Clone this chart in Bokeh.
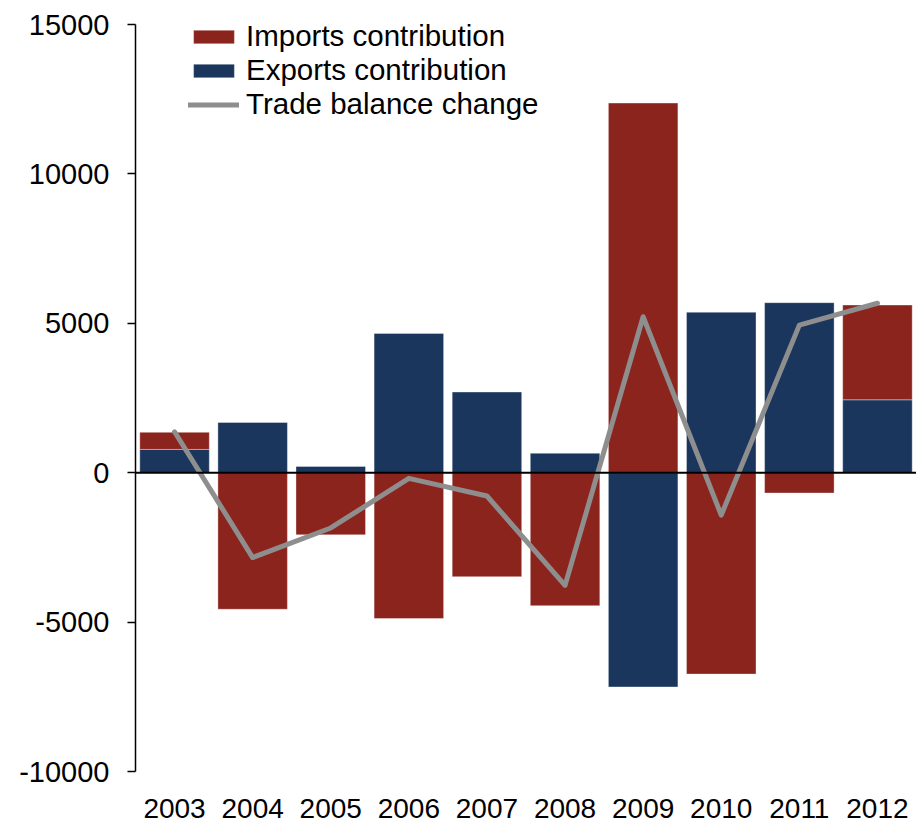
from bokeh.plotting import figure
from bokeh.models import (ColumnDataSource, Range1d, FactorRange, FixedTicker, Span,
                          Legend, LegendItem)
from bokeh.embed import file_html
from bokeh.resources import INLINE

# ---- data ----
years = ["2003", "2004", "2005", "2006", "2007", "2008", "2009", "2010", "2011", "2012"]
exports_contribution = [780, 1680, 210, 4660, 2700, 650, -7170, 5370, 5690, 2440]
imports_contribution = [570, -4570, -2080, -4880, -3480, -4450, 12370, -6740, -680, 3170]
trade_balance_change = [1370, -2840, -1850, -190, -780, -3770, 5220, -1420, 4940, 5670]
y_ticks = [-10000, -5000, 0, 5000, 10000, 15000]

RED = "#8B241D"
BLUE = "#1A365D"
GREY = "#8E8E8E"
FONT = "Liberation Sans"

# stacking: positive parts stack (exports first, then imports), negatives from zero
exp_bottom, exp_top, imp_bottom, imp_top = [], [], [], []
for e, i in zip(exports_contribution, imports_contribution):
    exp_bottom.append(0)
    exp_top.append(e)
    if (i > 0 and e > 0) or (i < 0 and e < 0):
        imp_bottom.append(e)
        imp_top.append(e + i)
    else:
        imp_bottom.append(0)
        imp_top.append(i)

exp_src = ColumnDataSource(dict(x=years, bottom=exp_bottom, top=exp_top))
imp_src = ColumnDataSource(dict(x=years, bottom=imp_bottom, top=imp_top))
line_src = ColumnDataSource(dict(x=years, y=trade_balance_change))

W, H = 916, 823
bottom_border = 52
top_gap = 24  # space above the 15000 tick inside the frame (room for legend)
frame_h = H - bottom_border
y_min, y_max = min(y_ticks), max(y_ticks)
units_per_px = (y_max - y_min) / (frame_h - top_gap)
y_end = y_max + top_gap * units_per_px

p = figure(width=W, height=H, output_backend="svg", toolbar_location=None,
           x_range=FactorRange(factors=years, range_padding=0),
           y_range=Range1d(y_min, y_end),
           min_border_left=135, min_border_right=0, min_border_top=0,
           min_border_bottom=bottom_border)
p.outline_line_color = None
p.grid.visible = False
p.background_fill_color = "white"
p.border_fill_color = "white"

bw = 0.89
r_exp = p.vbar(x="x", bottom="bottom", top="top", width=bw, source=exp_src,
               fill_color=BLUE, line_color="white", line_alpha=0.35, line_width=1)
r_imp = p.vbar(x="x", bottom="bottom", top="top", width=bw, source=imp_src,
               fill_color=RED, line_color="white", line_alpha=0.35, line_width=1)

p.add_layout(Span(location=0, dimension="width", line_color="black", line_width=2))

r_line = p.line(x="x", y="y", source=line_src, line_color=GREY, line_width=5,
                line_join="round", line_cap="round")

# y axis
ya = p.yaxis[0]
ya.bounds = (y_min, y_max)
ya.ticker = FixedTicker(ticks=y_ticks)
ya.major_label_overrides = {t: str(t) for t in y_ticks}
ya.minor_tick_line_color = None
ya.major_tick_in = 0
ya.major_tick_out = 8
ya.major_tick_line_color = "black"
ya.major_tick_line_width = 1.5
ya.axis_line_color = "black"
ya.axis_line_width = 1.5
ya.major_label_text_font = FONT
ya.major_label_text_font_size = "29px"
ya.major_label_text_color = "black"
ya.major_label_standoff = 18

# x axis
xa = p.xaxis[0]
xa.axis_line_color = None
xa.major_tick_line_color = None
xa.minor_tick_line_color = None
xa.major_tick_out = 0
xa.major_tick_in = 0
xa.major_label_text_font = FONT
xa.major_label_text_font_size = "28px"
xa.major_label_text_color = "black"
xa.major_label_standoff = 27

legend = Legend(items=[
    LegendItem(label="Imports contribution", renderers=[r_imp]),
    LegendItem(label="Exports contribution", renderers=[r_exp]),
    LegendItem(label="Trade balance change", renderers=[r_line]),
], location=(53, 650))
legend.glyph_width = 51
legend.glyph_height = 17
legend.label_standoff = 7
legend.spacing = 0
legend.padding = 0
legend.margin = 0
legend.border_line_color = None
legend.background_fill_alpha = 0
legend.label_text_font = FONT
legend.label_text_font_size = "29.5px"
legend.label_text_color = "black"
p.add_layout(legend)

open("out.html", "w").write(file_html(p, INLINE))
